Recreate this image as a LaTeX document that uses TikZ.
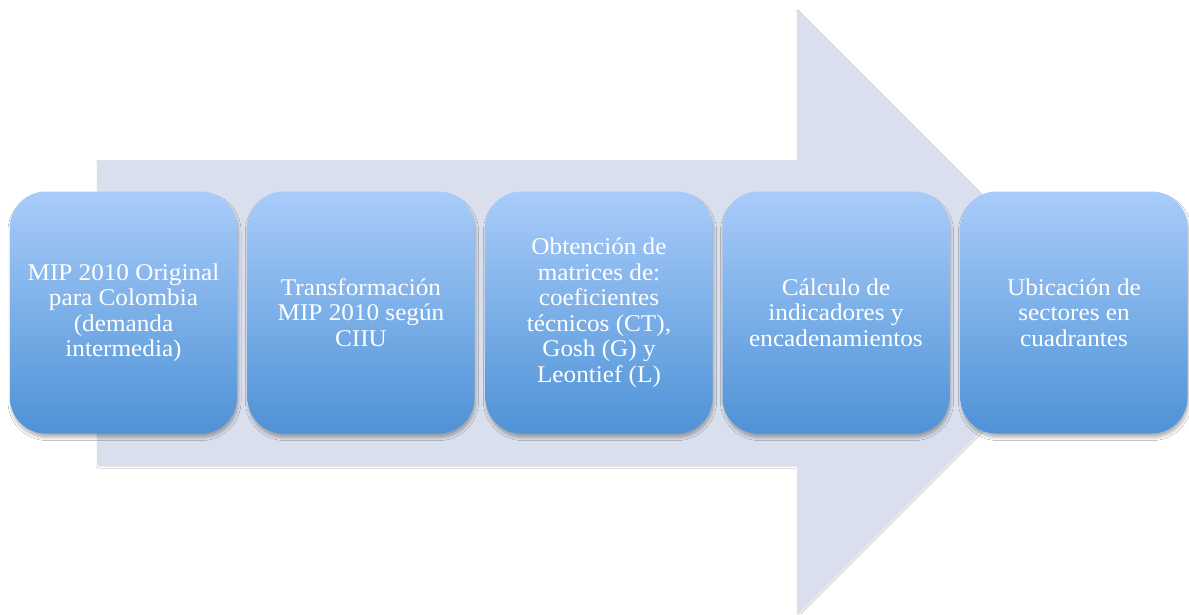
\documentclass[tikz,border=0pt]{standalone}
\usepackage{fontspec}
\setmainfont[FakeStretch=1.05]{Liberation Serif}
\usetikzlibrary{shadows.blur}
\definecolor{arrowfill}{RGB}{217,223,236}
\definecolor{boxtop}{RGB}{169,204,250}
\definecolor{boxbot}{RGB}{78,146,214}
\begin{document}
\begin{tikzpicture}[x=1pt,y=-1pt,
  stepbox/.style={rectangle, rounded corners=36pt, minimum width=227pt, minimum height=242pt,
    top color=boxtop, bottom color=boxbot, draw=none, text=white, align=center,
    inner sep=0pt, font=\fontsize{24}{25.5}\selectfont,
    blur shadow={shadow xshift=1pt, shadow yshift=-4pt, shadow blur radius=3pt, shadow blur steps=6, shadow opacity=30}},
  bigarrow/.style={fill=arrowfill, draw=none,
    blur shadow={shadow xshift=0.5pt, shadow yshift=-1.5pt, shadow blur radius=1.5pt, shadow blur steps=3, shadow opacity=15}}]
\useasboundingbox (0,0) rectangle (1189,614);
\fill[white] (0,0) rectangle (1189,614);
\path[bigarrow] (97,160) -- (797,160) -- (797,10) -- (1099,312) -- (797,614) -- (797,465) -- (97,465) -- cycle;
\node[stepbox] (s1) at (123.5,312.5) {MIP 2010 Original\\para Colombia\\(demanda\\intermedia)};
\node[stepbox] (s2) at (361,312.5) {Transformación\\MIP 2010 según\\CIIU};
\node[stepbox] (s3) at (599,312.5) {Obtención de\\matrices de:\\coeficientes\\técnicos (CT),\\Gosh (G) y\\Leontief (L)};
\node[stepbox] (s4) at (836,312.5) {Cálculo de\\indicadores y\\encadenamientos};
\node[stepbox] (s5) at (1074,312.5) {Ubicación de\\sectores en\\cuadrantes};
\end{tikzpicture}
\end{document}
